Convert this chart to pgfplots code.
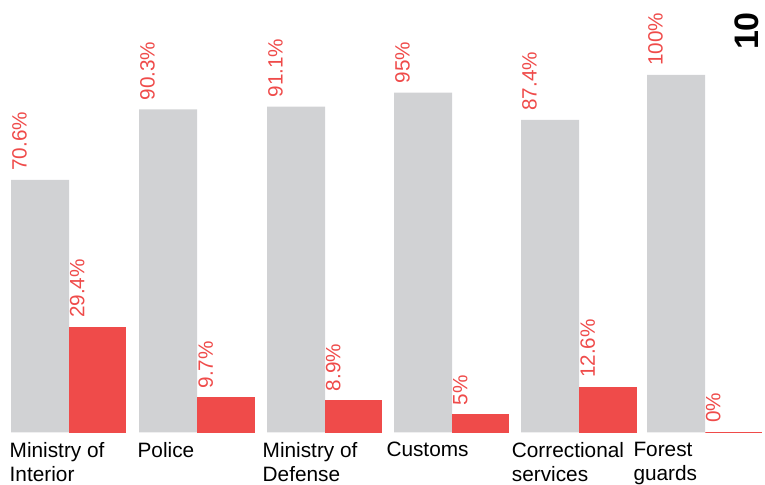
\documentclass[border=0pt]{standalone}
\usepackage{pgfplots}
\pgfplotsset{compat=1.18}
\usepackage{fontspec}
\setmainfont{Liberation Sans}
\definecolor{bargray}{HTML}{D1D2D4}
\definecolor{barred}{HTML}{EF4B4A}
\begin{document}
\begin{tikzpicture}
\begin{axis}[
 scale only axis, width=765bp, height=485bp,
 xmin=0, xmax=765, ymin=-14.68, ymax=120.91,
 axis line style={draw=none}, major tick length=0pt,
 ytick=\empty, xtick={9.5,137.4,262.5,386.3,511.7,633.3},
 xticklabels={{Ministry of\\Interior},Police,{Ministry of\\Defense},Customs,{Correctional\\services},{Forest\\guards}},
 xticklabel style={anchor=north west, inner sep=0pt, align=left, yshift=43bp, font=\fontsize{20.8bp}{24.3bp}\selectfont, text=black},
 ybar,
 clip=false,
 point meta=explicit symbolic,
 nodes near coords,
 every node near coord/.append style={xshift=-28bp, yshift=9bp, rotate=90, anchor=north west, inner sep=0pt, font=\fontsize{20.7bp}{24bp}\selectfont, text=barred},
]
\addplot[fill=bargray, draw=none, bar width=58, bar shift=0] coordinates {
 (40,70.6) [70.6\%]
 (168,90.3) [90.3\%]
 (296,91.1) [91.1\%]
 (423,95) [95\%]
 (550,87.4) [87.4\%]
 (676,100) [100\%]
};
\addplot[fill=barred, draw=barred, line width=1bp, bar width=56.5, bar shift=0] coordinates {
 (97.5,29.4) [29.4\%]
 (226,9.7) [9.7\%]
 (353.5,8.9) [8.9\%]
 (480.5,5) [5\%]
 (608,12.6) [12.6\%]
 (733.5,0) [0\%]
};
\node[rotate=90, font=\bfseries\fontsize{34bp}{34bp}\selectfont, text=black] at (rel axis cs:0.9765,0.936) {10};
\end{axis}
\pgfresetboundingbox
\path[use as bounding box] (current axis.south west) rectangle (current axis.north east);
\end{tikzpicture}
\end{document}
